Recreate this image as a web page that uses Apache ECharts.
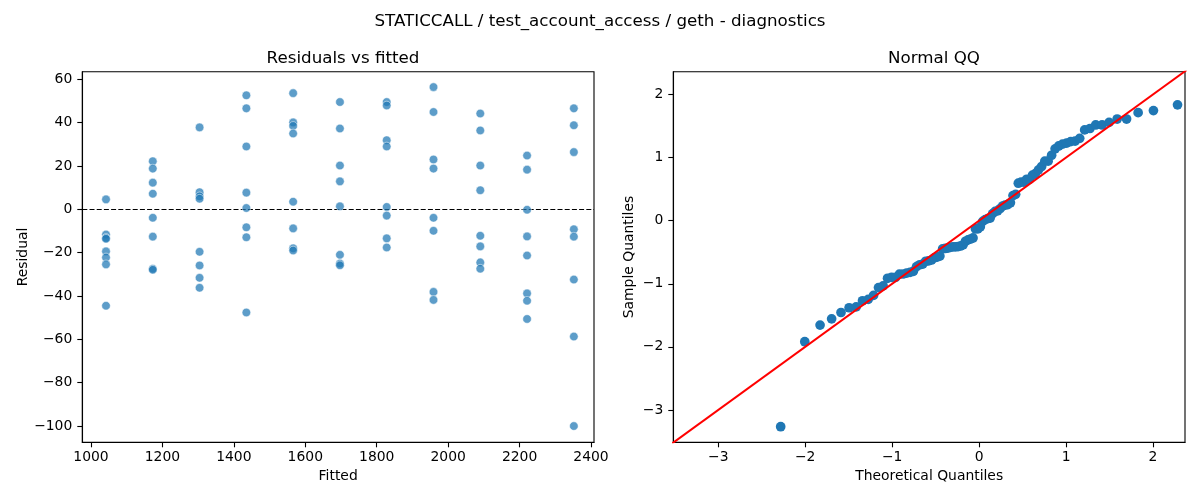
<!DOCTYPE html>
<html>
<head>
<meta charset="utf-8">
<script src="https://cdn.jsdelivr.net/npm/echarts@6/dist/echarts.min.js"></script>
<style>
html, body { margin: 0; padding: 0; background: #ffffff; }
#chart { width: 1200px; height: 500px; }
</style>
</head>
<body>
<div id="chart"></div>
<script>
// ---- data ----
const fittedLevels = [1042, 1173, 1304, 1435, 1566, 1697, 1828, 1959, 2090, 2221, 2352];
// eight residuals per fitted level, in the same order as fittedLevels
const residuals = [
  4.6, -11.6, -13.2, -13.6, -19.4, -22.2, -25.4, -44.5,
  22.2, 18.8, 12.3, 7.2, -3.9, -12.6, -27.4, -27.9,
  37.8, 7.9, 6.0, 4.9, -19.6, -25.9, -31.6, -36.2,
  52.6, 46.6, 29.0, 7.7, 0.6, -8.3, -12.9, -47.6,
  53.6, 40.1, 38.5, 35.0, 3.5, -8.8, -18.0, -19.0,
  49.5, 37.3, 20.2, 12.9, 1.4, -21.0, -25.0, -25.8,
  49.5, 47.9, 31.9, 29.0, 1.1, -2.9, -13.4, -17.6,
  56.4, 44.9, 23.0, 18.8, -3.9, -9.9, -38.1, -41.8,
  44.2, 36.4, 20.2, 8.8, -12.2, -17.1, -24.5, -27.4,
  24.8, 18.3, -0.2, -12.5, -21.3, -38.8, -42.2, -50.6,
  46.6, 38.8, 26.4, -9.2, -12.6, -32.4, -58.7, -100.0
];
const pointsPerLevel = 8;
const residualZero = 0;

const theoreticalQuantiles = [
  -2.282, -2.005, -1.829, -1.696, -1.588, -1.495, -1.414, -1.341, -1.275, -1.214,
  -1.157, -1.104, -1.053, -1.006, -0.960, -0.916, -0.874, -0.834, -0.794, -0.756,
  -0.719, -0.683, -0.648, -0.614, -0.580, -0.547, -0.515, -0.483, -0.451, -0.420,
  -0.390, -0.360, -0.330, -0.300, -0.271, -0.242, -0.213, -0.184, -0.156, -0.127,
  -0.099, -0.070, -0.042, -0.014, 0.014, 0.042, 0.070, 0.099, 0.127, 0.156,
  0.184, 0.213, 0.242, 0.271, 0.300, 0.330, 0.360, 0.390, 0.420, 0.451,
  0.483, 0.515, 0.547, 0.580, 0.614, 0.648, 0.683, 0.719, 0.756, 0.794,
  0.834, 0.874, 0.916, 0.960, 1.006, 1.053, 1.104, 1.157, 1.214, 1.275,
  1.341, 1.414, 1.495, 1.588, 1.696, 1.829, 2.005, 2.282
];
const sampleQuantiles = [
  -3.265, -1.918, -1.654, -1.556, -1.455, -1.380, -1.367, -1.269, -1.246, -1.184,
  -1.060, -1.034, -0.913, -0.897, -0.897, -0.848, -0.845, -0.832, -0.819, -0.802,
  -0.727, -0.698, -0.688, -0.643, -0.636, -0.623, -0.590, -0.577, -0.561, -0.447,
  -0.440, -0.434, -0.424, -0.414, -0.414, -0.411, -0.401, -0.382, -0.326, -0.303,
  -0.290, -0.274, -0.130, -0.130, -0.098, -0.010, 0.016, 0.033, 0.042, 0.111,
  0.147, 0.157, 0.192, 0.232, 0.248, 0.254, 0.284, 0.398, 0.417, 0.594,
  0.610, 0.610, 0.656, 0.656, 0.721, 0.747, 0.806, 0.858, 0.943, 0.943,
  1.037, 1.138, 1.184, 1.213, 1.230, 1.252, 1.262, 1.305, 1.438, 1.461,
  1.517, 1.517, 1.559, 1.611, 1.611, 1.712, 1.745, 1.836
];
// 45-degree reference line end points (x = y)
const refLineEnds = [-3.6, 2.5];

const fittedTicks = [1000, 1200, 1400, 1600, 1800, 2000, 2200, 2400];
const residualTicks = [-100, -80, -60, -40, -20, 0, 20, 40, 60];
const theoTicks = [-3, -2, -1, 0, 1, 2];
const sampleTicks = [-3, -2, -1, 0, 1, 2];

const chartTitle = 'STATICCALL / test_account_access / geth - diagnostics';
const leftTitle = 'Residuals vs fitted';
const rightTitle = 'Normal QQ';

// ---- build series data ----
const residualPoints = residuals.map((r, i) => [fittedLevels[Math.floor(i / pointsPerLevel)], r]);
const qqPoints = theoreticalQuantiles.map((t, i) => [t, sampleQuantiles[i]]);
const refLine = refLineEnds.map(v => [v, v]);

// ---- styling ----
const FONT = 'DejaVu Sans';
const minusFmt = v => String(v).replace('-', '\u2212');

function valueAxis(opts) {
  return Object.assign({
    type: 'value',
    scale: true,
    splitLine: { show: false },
    axisLine: { show: true, onZero: false, lineStyle: { color: '#000', width: 1.1 } },
    nameLocation: 'middle',
    nameTextStyle: { fontFamily: FONT, fontSize: 13.9, color: '#000' }
  }, opts);
}
function labelCfg(ticks, margin) {
  return { show: true, fontFamily: FONT, fontSize: 13.9, color: '#000', margin: margin, formatter: minusFmt, customValues: ticks };
}
function tickCfg(ticks) {
  return { show: true, inside: false, length: 5, lineStyle: { color: '#000', width: 1.1 }, customValues: ticks };
}

const chart = echarts.init(document.getElementById('chart'), null, { renderer: 'canvas' });
chart.setOption({
  animation: false,
  backgroundColor: '#ffffff',
  title: [
    { text: chartTitle, left: 'center', top: 8, textStyle: { fontFamily: FONT, fontSize: 16.7, fontWeight: 'normal', color: '#000' } },
    { text: leftTitle, left: 338, textAlign: 'center', top: 45, textStyle: { fontFamily: FONT, fontSize: 16.7, fontWeight: 'normal', color: '#000' } },
    { text: rightTitle, left: 929, textAlign: 'center', top: 45, textStyle: { fontFamily: FONT, fontSize: 16.7, fontWeight: 'normal', color: '#000' } }
  ],
  grid: [
    { left: 82.3, top: 71.7, width: 511.7, height: 370.6, show: true, borderColor: '#000', borderWidth: 1.1, containLabel: false },
    { left: 673.3, top: 71.7, width: 511.7, height: 370.6, show: true, borderColor: '#000', borderWidth: 1.1, containLabel: false }
  ],
  xAxis: [
    valueAxis({ gridIndex: 0, min: 975.6, max: 2408.4, name: 'Fitted', nameGap: 26,
      axisLabel: labelCfg(fittedTicks, 8), axisTick: tickCfg(fittedTicks) }),
    valueAxis({ gridIndex: 1, min: -3.517, max: 2.368, name: 'Theoretical Quantiles', nameGap: 27,
      axisLabel: labelCfg(theoTicks, 8), axisTick: tickCfg(theoTicks) })
  ],
  yAxis: [
    valueAxis({ gridIndex: 0, min: -107.5, max: 63.5, name: 'Residual', nameGap: 52,
      axisLabel: labelCfg(residualTicks, 10), axisTick: tickCfg(residualTicks) }),
    valueAxis({ gridIndex: 1, min: -3.512, max: 2.361, name: 'Sample Quantiles', nameGap: 37,
      axisLabel: labelCfg(sampleTicks, 10), axisTick: tickCfg(sampleTicks) })
  ],
  series: [
    {
      type: 'scatter', xAxisIndex: 0, yAxisIndex: 0, data: residualPoints,
      symbol: 'circle', symbolSize: 8.6,
      itemStyle: { color: '#1f77b4', opacity: 0.72, borderColor: '#ffffff', borderWidth: 0.7 },
      z: 3,
      markLine: {
        silent: true, symbol: ['none', 'none'], animation: false,
        label: { show: false },
        lineStyle: { color: '#000', type: [5, 2.2], width: 1.1 },
        data: [{ yAxis: residualZero }],
        z: 2
      }
    },
    {
      type: 'scatter', xAxisIndex: 1, yAxisIndex: 1, data: qqPoints,
      symbol: 'circle', symbolSize: 9.7,
      itemStyle: { color: '#1f77b4', opacity: 1 },
      z: 3
    },
    {
      type: 'line', xAxisIndex: 1, yAxisIndex: 1, data: refLine,
      showSymbol: false, symbol: 'none', clip: true,
      lineStyle: { color: '#ff0000', width: 2 },
      z: 4
    }
  ]
});
</script>
</body>
</html>
